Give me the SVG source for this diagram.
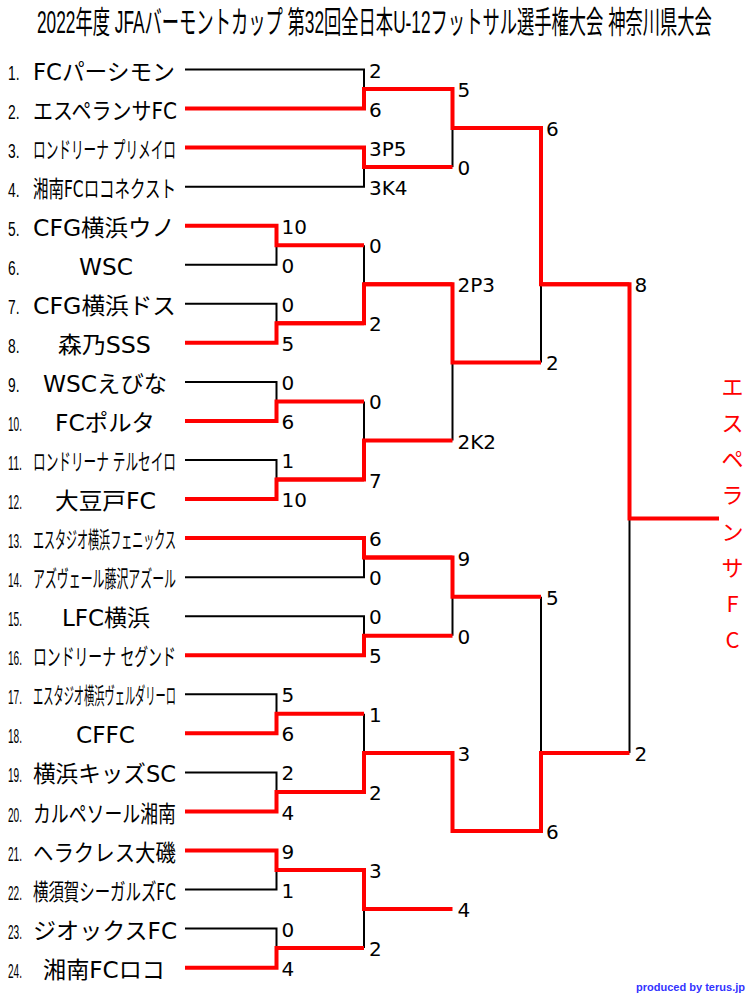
<svg xmlns="http://www.w3.org/2000/svg" width="750" height="1000" viewBox="0 0 750 1000">
<style>
.title{font-family:"Liberation Sans","Noto Sans CJK JP",sans-serif;font-size:31px;fill:#000}
.num{font-family:"Liberation Sans","DejaVu Sans",sans-serif;font-size:21px;fill:#000}
.name{font-family:"DejaVu Sans","Noto Sans CJK JP",sans-serif;font-size:23px;fill:#000}
.sc{font-family:"DejaVu Sans","Noto Sans CJK JP",sans-serif;font-size:20px;fill:#000}
.bl{fill:none;stroke:#000;stroke-width:2}
.rd{fill:none;stroke:#ff0000;stroke-width:4;stroke-linejoin:miter}
.champ{font-family:"Noto Sans CJK JP",sans-serif;font-size:22px;fill:#ff0000;text-anchor:middle}
.credit{font-family:"Liberation Sans","DejaVu Sans",sans-serif;font-size:11px;font-weight:bold;fill:#3333ff}
</style>
<rect width="750" height="1000" fill="#fff"/>
<g id="title"><text class="title" transform="translate(37,33) scale(0.56,1)" x="0" y="0" textLength="1205" lengthAdjust="spacingAndGlyphs">2022年度 JFAバーモントカップ 第32回全日本U-12フットサル選手権大会 神奈川県大会</text></g>

<g id="connectors">
<g id="losers">
<path class="bl" d="M185 69.5H364V89"/>
<path class="bl" d="M185 186.65H364V167.1"/>
<path class="bl" d="M452.5 167.1V128.1"/>
<path class="bl" d="M185 264.75H276.5V245.2"/>
<path class="bl" d="M185 303.8H276.5V323.3"/>
<path class="bl" d="M364 245.2V284.3"/>
<path class="bl" d="M185 381.9H276.5V401.4"/>
<path class="bl" d="M185 460H276.5V479.5"/>
<path class="bl" d="M364 401.4V440.5"/>
<path class="bl" d="M452.5 440.5V362.4"/>
<path class="bl" d="M541 362.4V284.3"/>
<path class="bl" d="M185 577.15H364V557.6"/>
<path class="bl" d="M185 616.2H364V635.7"/>
<path class="bl" d="M452.5 635.7V596.7"/>
<path class="bl" d="M185 694.3H276.5V713.8"/>
<path class="bl" d="M185 772.4H276.5V791.9"/>
<path class="bl" d="M364 713.8V752.9"/>
<path class="bl" d="M185 889.55H276.5V870"/>
<path class="bl" d="M185 928.6H276.5V948.1"/>
<path class="bl" d="M364 948.1V909.1"/>
<path class="bl" d="M452.5 752.9V831"/>
<path class="bl" d="M541 596.7V752.9"/>
<path class="bl" d="M629.5 752.9V518.6"/>
</g>
<g id="winners">
<path class="rd" d="M185 108.55H364V89H452.5"/>
<path class="rd" d="M185 147.6H364V167.1H452.5"/>
<path class="rd" d="M364 89H452.5V128.1H541"/>
<path class="rd" d="M185 225.7H276.5V245.2H364"/>
<path class="rd" d="M185 342.85H276.5V323.3H364"/>
<path class="rd" d="M276.5 323.3H364V284.3H452.5"/>
<path class="rd" d="M185 420.95H276.5V401.4H364"/>
<path class="rd" d="M185 499.05H276.5V479.5H364"/>
<path class="rd" d="M276.5 479.5H364V440.5H452.5"/>
<path class="rd" d="M364 284.3H452.5V362.4H541"/>
<path class="rd" d="M452.5 128.1H541V284.3H629.5"/>
<path class="rd" d="M185 538.1H364V557.6H452.5"/>
<path class="rd" d="M185 655.25H364V635.7H452.5"/>
<path class="rd" d="M364 557.6H452.5V596.7H541"/>
<path class="rd" d="M185 733.35H276.5V713.8H364"/>
<path class="rd" d="M185 811.45H276.5V791.9H364"/>
<path class="rd" d="M276.5 791.9H364V752.9H452.5"/>
<path class="rd" d="M185 850.5H276.5V870H364"/>
<path class="rd" d="M185 967.65H276.5V948.1H364"/>
<path class="rd" d="M276.5 870H364V909.1H452.5"/>
<path class="rd" d="M364 752.9H452.5V831H541"/>
<path class="rd" d="M452.5 831H541V752.9H629.5"/>
<path class="rd" d="M541 284.3H629.5V518.6H719"/>
</g>
</g>

<g id="team-1"><text class="num" transform="translate(8,79.5) scale(0.657,1)" textLength="17.5" lengthAdjust="spacingAndGlyphs">1.</text><text class="name" x="33" y="79.5" textLength="142" lengthAdjust="spacingAndGlyphs">FCパーシモン</text></g>
<g id="team-2"><text class="num" transform="translate(8,118.6) scale(0.657,1)" textLength="17.5" lengthAdjust="spacingAndGlyphs">2.</text><text class="name" x="33" y="118.6" textLength="144" lengthAdjust="spacingAndGlyphs">エスペランサFC</text></g>
<g id="team-3"><text class="num" transform="translate(8,157.6) scale(0.657,1)" textLength="17.5" lengthAdjust="spacingAndGlyphs">3.</text><text class="name" transform="translate(33,157.6) scale(0.55,1)" textLength="260" lengthAdjust="spacingAndGlyphs">ロンドリーナ プリメイロ</text></g>
<g id="team-4"><text class="num" transform="translate(8,196.7) scale(0.657,1)" textLength="17.5" lengthAdjust="spacingAndGlyphs">4.</text><text class="name" transform="translate(33,196.7) scale(0.65,1)" textLength="220" lengthAdjust="spacingAndGlyphs">湘南FCロコネクスト</text></g>
<g id="team-5"><text class="num" transform="translate(8,235.7) scale(0.657,1)" textLength="17.5" lengthAdjust="spacingAndGlyphs">5.</text><text class="name" x="33" y="235.7" textLength="142" lengthAdjust="spacingAndGlyphs">CFG横浜ウノ</text></g>
<g id="team-6"><text class="num" transform="translate(8,274.8) scale(0.657,1)" textLength="17.5" lengthAdjust="spacingAndGlyphs">6.</text><text class="name" x="79" y="274.8" textLength="54" lengthAdjust="spacingAndGlyphs">WSC</text></g>
<g id="team-7"><text class="num" transform="translate(8,313.8) scale(0.657,1)" textLength="17.5" lengthAdjust="spacingAndGlyphs">7.</text><text class="name" x="33" y="313.8" textLength="143" lengthAdjust="spacingAndGlyphs">CFG横浜ドス</text></g>
<g id="team-8"><text class="num" transform="translate(8,352.9) scale(0.657,1)" textLength="17.5" lengthAdjust="spacingAndGlyphs">8.</text><text class="name" x="58" y="352.9" textLength="93" lengthAdjust="spacingAndGlyphs">森乃SSS</text></g>
<g id="team-9"><text class="num" transform="translate(8,391.9) scale(0.657,1)" textLength="17.5" lengthAdjust="spacingAndGlyphs">9.</text><text class="name" x="43" y="391.9" textLength="124" lengthAdjust="spacingAndGlyphs">WSCえびな</text></g>
<g id="team-10"><text class="num" transform="translate(8,431) scale(0.48,1)" textLength="29.2" lengthAdjust="spacingAndGlyphs">10.</text><text class="name" x="55" y="431" textLength="100" lengthAdjust="spacingAndGlyphs">FCポルタ</text></g>
<g id="team-11"><text class="num" transform="translate(8,470) scale(0.48,1)" textLength="29.2" lengthAdjust="spacingAndGlyphs">11.</text><text class="name" transform="translate(33,470) scale(0.55,1)" textLength="260" lengthAdjust="spacingAndGlyphs">ロンドリーナ テルセイロ</text></g>
<g id="team-12"><text class="num" transform="translate(8,509.1) scale(0.48,1)" textLength="29.2" lengthAdjust="spacingAndGlyphs">12.</text><text class="name" x="55" y="509.1" textLength="101" lengthAdjust="spacingAndGlyphs">大豆戸FC</text></g>
<g id="team-13"><text class="num" transform="translate(8,548.1) scale(0.48,1)" textLength="29.2" lengthAdjust="spacingAndGlyphs">13.</text><text class="name" transform="translate(33,548.1) scale(0.478,1)" textLength="299" lengthAdjust="spacingAndGlyphs">エスタジオ横浜フェニックス</text></g>
<g id="team-14"><text class="num" transform="translate(8,587.2) scale(0.48,1)" textLength="29.2" lengthAdjust="spacingAndGlyphs">14.</text><text class="name" transform="translate(33,587.2) scale(0.518,1)" textLength="276" lengthAdjust="spacingAndGlyphs">アズヴェール藤沢アズール</text></g>
<g id="team-15"><text class="num" transform="translate(8,626.2) scale(0.48,1)" textLength="29.2" lengthAdjust="spacingAndGlyphs">15.</text><text class="name" x="62" y="626.2" textLength="88" lengthAdjust="spacingAndGlyphs">LFC横浜</text></g>
<g id="team-16"><text class="num" transform="translate(8,665.3) scale(0.48,1)" textLength="29.2" lengthAdjust="spacingAndGlyphs">16.</text><text class="name" transform="translate(33,665.3) scale(0.6,1)" textLength="238" lengthAdjust="spacingAndGlyphs">ロンドリーナ セグンド</text></g>
<g id="team-17"><text class="num" transform="translate(8,704.3) scale(0.48,1)" textLength="29.2" lengthAdjust="spacingAndGlyphs">17.</text><text class="name" transform="translate(33,704.3) scale(0.444,1)" textLength="322" lengthAdjust="spacingAndGlyphs">エスタジオ横浜ヴェルダリーロ</text></g>
<g id="team-18"><text class="num" transform="translate(8,743.4) scale(0.48,1)" textLength="29.2" lengthAdjust="spacingAndGlyphs">18.</text><text class="name" x="76" y="743.4" textLength="59" lengthAdjust="spacingAndGlyphs">CFFC</text></g>
<g id="team-19"><text class="num" transform="translate(8,782.4) scale(0.48,1)" textLength="29.2" lengthAdjust="spacingAndGlyphs">19.</text><text class="name" x="33" y="782.4" textLength="143" lengthAdjust="spacingAndGlyphs">横浜キッズSC</text></g>
<g id="team-20"><text class="num" transform="translate(8,821.5) scale(0.48,1)" textLength="29.2" lengthAdjust="spacingAndGlyphs">20.</text><text class="name" transform="translate(33,821.5) scale(0.777,1)" textLength="184" lengthAdjust="spacingAndGlyphs">カルペソール湘南</text></g>
<g id="team-21"><text class="num" transform="translate(8,860.5) scale(0.48,1)" textLength="29.2" lengthAdjust="spacingAndGlyphs">21.</text><text class="name" transform="translate(33,860.5) scale(0.888,1)" textLength="161" lengthAdjust="spacingAndGlyphs">ヘラクレス大磯</text></g>
<g id="team-22"><text class="num" transform="translate(8,899.6) scale(0.48,1)" textLength="29.2" lengthAdjust="spacingAndGlyphs">22.</text><text class="name" transform="translate(33,899.6) scale(0.65,1)" textLength="220" lengthAdjust="spacingAndGlyphs">横須賀シーガルズFC</text></g>
<g id="team-23"><text class="num" transform="translate(8,938.6) scale(0.48,1)" textLength="29.2" lengthAdjust="spacingAndGlyphs">23.</text><text class="name" x="33" y="938.6" textLength="144" lengthAdjust="spacingAndGlyphs">ジオックスFC</text></g>
<g id="team-24"><text class="num" transform="translate(8,977.7) scale(0.48,1)" textLength="29.2" lengthAdjust="spacingAndGlyphs">24.</text><text class="name" x="43" y="977.7" textLength="122" lengthAdjust="spacingAndGlyphs">湘南FCロコ</text></g>

<g id="scores">
<g id="round-1">
<text class="sc" x="281.5" y="233.7">10</text><text class="sc" x="281.5" y="272.8">0</text>
<text class="sc" x="281.5" y="311.8">0</text><text class="sc" x="281.5" y="350.9">5</text>
<text class="sc" x="281.5" y="389.9">0</text><text class="sc" x="281.5" y="429">6</text>
<text class="sc" x="281.5" y="468">1</text><text class="sc" x="281.5" y="507.1">10</text>
<text class="sc" x="281.5" y="702.3">5</text><text class="sc" x="281.5" y="741.4">6</text>
<text class="sc" x="281.5" y="780.4">2</text><text class="sc" x="281.5" y="819.5">4</text>
<text class="sc" x="281.5" y="858.5">9</text><text class="sc" x="281.5" y="897.6">1</text>
<text class="sc" x="281.5" y="936.6">0</text><text class="sc" x="281.5" y="975.7">4</text>
</g>
<g id="round-2">
<text class="sc" x="369" y="77.5">2</text><text class="sc" x="369" y="116.6">6</text>
<text class="sc" x="369" y="155.6">3P5</text><text class="sc" x="369" y="194.7">3K4</text>
<text class="sc" x="369" y="253.2">0</text><text class="sc" x="369" y="331.3">2</text>
<text class="sc" x="369" y="409.4">0</text><text class="sc" x="369" y="487.5">7</text>
<text class="sc" x="369" y="546.1">6</text><text class="sc" x="369" y="585.2">0</text>
<text class="sc" x="369" y="624.2">0</text><text class="sc" x="369" y="663.3">5</text>
<text class="sc" x="369" y="721.8">1</text><text class="sc" x="369" y="799.9">2</text>
<text class="sc" x="369" y="878">3</text><text class="sc" x="369" y="956.1">2</text>
</g>
<g id="round-3">
<text class="sc" x="457.5" y="97">5</text><text class="sc" x="457.5" y="175.1">0</text>
<text class="sc" x="457.5" y="292.3">2P3</text><text class="sc" x="457.5" y="448.5">2K2</text>
<text class="sc" x="457.5" y="565.6">9</text><text class="sc" x="457.5" y="643.7">0</text>
<text class="sc" x="457.5" y="760.9">3</text><text class="sc" x="457.5" y="917.1">4</text>
</g>
<g id="semifinal">
<text class="sc" x="546" y="136.1">6</text><text class="sc" x="546" y="370.4">2</text>
<text class="sc" x="546" y="604.7">5</text><text class="sc" x="546" y="839">6</text>
</g>
<g id="final">
<text class="sc" x="634.5" y="292.3">8</text><text class="sc" x="634.5" y="760.9">2</text>
</g>
</g>

<g id="champion">
<text class="champ"><tspan x="732.5" y="395">エ</tspan><tspan x="732.5" y="431.1">ス</tspan><tspan x="732.5" y="467.3">ペ</tspan><tspan x="732.5" y="503.4">ラ</tspan><tspan x="732.5" y="539.6">ン</tspan><tspan x="732.5" y="575.7">サ</tspan><tspan x="732.5" y="611.9">F</tspan><tspan x="732.5" y="648">C</tspan></text>
</g>

<g id="credit"><text class="credit" x="636" y="991" textLength="109" lengthAdjust="spacingAndGlyphs">produced by terus.jp</text></g>
</svg>
